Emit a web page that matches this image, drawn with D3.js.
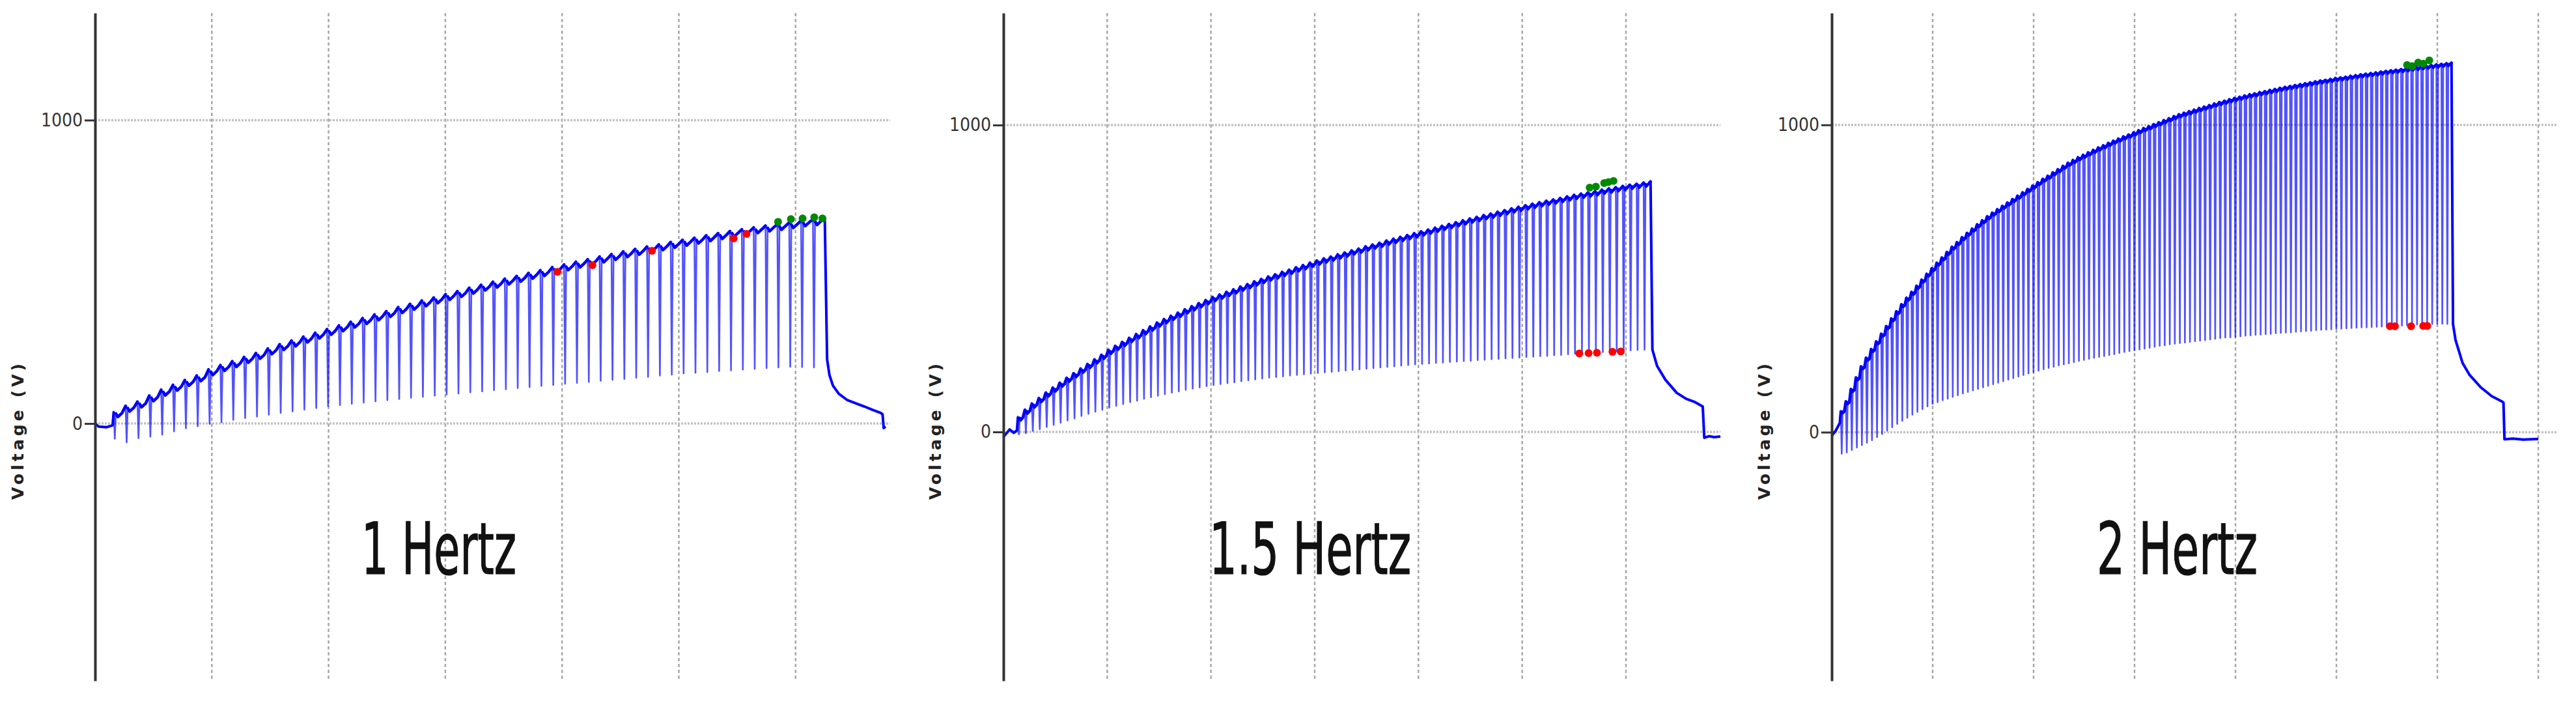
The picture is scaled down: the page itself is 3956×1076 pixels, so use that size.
<!DOCTYPE html>
<html>
<head>
<meta charset="utf-8">
<script src="https://cdn.jsdelivr.net/npm/d3@7"></script>
<style>
  body { margin: 0; background: #fff; }
  svg { display: block; }
  .tick text { font-family: "Liberation Sans Narrow", "DejaVu Sans Condensed", sans-serif; font-size: 28px; fill: #333; }
  .axis-title { font-family: "DejaVu Sans", Verdana, sans-serif; font-weight: bold; font-size: 25px; fill: #222; }
  .freq-label { font-family: "Liberation Sans Narrow", "DejaVu Sans Condensed", sans-serif; font-size: 110px; fill: #111; stroke: #111; stroke-width: 1.2px; }
</style>
</head>
<body>
<svg id="chart" width="3956" height="1076"></svg>
<script>
const yTicks = [0, 1000];
const gridStep = 10;
const axisTitle = "Voltage (V)";

// ---- 1 Hz: peak / trough voltage of each pulse ----
const p1Top = [40, 58, 72, 92, 111, 127, 143, 158, 178, 192,
  205, 219, 232, 247, 261, 273, 286, 299, 311, 323,
  335, 347, 359, 370, 383, 394, 405, 415, 426, 436,
  447, 457, 467, 477, 486, 496, 505, 515, 524, 533,
  541, 550, 558, 567, 575, 583, 590, 598, 605, 612,
  620, 627, 634, 640, 646, 652, 657, 663, 669, 673, 678];
const p1Bottom = [-50, -62, -48, -43, -37, -26, -16, -9, -1, 4,
  12, 18, 23, 29, 35, 40, 46, 51, 57, 61,
  65, 69, 73, 77, 81, 85, 88, 92, 96, 99,
  103, 106, 110, 113, 117, 120, 124, 127, 131, 134,
  137, 141, 144, 147, 151, 154, 158, 161, 165, 167,
  170, 173, 175, 178, 180, 183, 185, 187, 186, 185];
const p1Lead = [[0, 0], [0.3, -10], [1.0, -12], [1.5, -6]];
const p1Tail = [[62.7, 212], [62.9, 160], [63.2, 125], [63.7, 98], [64.4, 78], [65.2, 66],
  [65.9, 56], [66.6, 45], [67.3, 35], [67.45, 30], [67.55, -15], [67.7, -10]];
const p1Red = [[39.6, 500], [42.6, 522], [47.7, 569], [54.7, 610], [55.8, 625]];
const p1Green = [[58.5, 665], [59.6, 674], [60.6, 676], [61.6, 680], [62.3, 676]];

// ---- 1.5 Hz ----
const p2Top = [50, 72, 92, 110, 128, 144, 160, 176, 191, 206,
  221, 236, 251, 267, 280, 293, 306, 318, 331, 343,
  356, 367, 378, 388, 399, 409, 419, 429, 439, 447,
  456, 464, 473, 481, 490, 498, 506, 513, 521, 528,
  536, 543, 551, 558, 565, 571, 578, 584, 591, 597,
  604, 610, 616, 623, 629, 635, 641, 647, 653, 659,
  665, 671, 677, 683, 689, 695, 700, 706, 711, 717,
  722, 728, 733, 738, 743, 748, 753, 757, 762, 767,
  772, 776, 780, 784, 789, 793, 797, 801, 805, 808, 812, 816];
const p2Bottom = [-8, -4, 3, 9, 16, 23, 30, 37, 44, 52,
  59, 66, 72, 79, 85, 91, 97, 102, 108, 113,
  118, 123, 128, 132, 137, 141, 145, 149, 153, 156,
  159, 162, 165, 168, 171, 174, 177, 179, 181, 184,
  186, 188, 190, 192, 194, 196, 198, 200, 202, 204,
  206, 208, 210, 212, 214, 216, 218, 220, 222, 223,
  225, 226, 228, 229, 231, 232, 234, 235, 237, 238,
  240, 241, 242, 244, 245, 247, 248, 250, 251, 253,
  255, 256, 258, 259, 260, 262, 263, 264, 266, 267, 268];
const p2Lead = [[0, -16], [0.6, 8], [1.0, -3], [1.3, 5]];
const p2Tail = [[62.55, 268], [63.0, 215], [63.8, 170], [64.9, 127], [65.8, 108], [66.6, 98],
  [67.4, 83], [67.55, -19], [68.0, -14], [68.5, -17], [69.1, -15]];
const p2Red = [[55.5, 256], [56.4, 257], [57.2, 258], [58.7, 261], [59.5, 262]];
const p2Green = [[56.5, 796], [57.1, 799], [57.9, 811], [58.3, 814], [58.8, 818]];

// ---- 2 Hz ----
const p3Top = [70, 100, 140, 178, 214, 242, 270, 295, 320, 345,
  370, 393, 416, 437, 456, 476, 496, 515, 533, 551,
  568, 586, 603, 618, 634, 648, 662, 676, 689, 702,
  714, 725, 736, 747, 758, 769, 780, 791, 802, 813,
  824, 834, 845, 855, 866, 876, 885, 894, 902, 910,
  918, 926, 933, 941, 948, 955, 962, 968, 975, 982,
  989, 995, 1002, 1008, 1015, 1021, 1028, 1034, 1039, 1044,
  1049, 1054, 1059, 1064, 1069, 1074, 1078, 1083, 1087, 1091,
  1095, 1099, 1102, 1106, 1109, 1113, 1116, 1120, 1123, 1126,
  1129, 1132, 1135, 1138, 1141, 1144, 1146, 1149, 1152, 1154,
  1156, 1159, 1161, 1164, 1166, 1168, 1170, 1173, 1175, 1177,
  1179, 1181, 1183, 1186, 1188, 1190, 1192, 1194, 1196, 1198, 1200, 1202];
const p3Bottom = [-70, -66, -58, -50, -42, -34, -26, -16, -6, 5,
  16, 27, 37, 47, 57, 66, 75, 84, 92, 98,
  104, 109, 115, 120, 126, 131, 136, 141, 146, 151,
  156, 161, 166, 171, 176, 181, 186, 191, 196, 200,
  205, 209, 213, 217, 221, 224, 228, 232, 235, 239,
  242, 245, 248, 251, 254, 258, 261, 264, 267, 269,
  272, 275, 278, 281, 283, 286, 288, 290, 292, 294,
  296, 298, 300, 302, 304, 306, 308, 309, 311, 312,
  314, 315, 317, 318, 319, 320, 322, 323, 324, 325,
  327, 328, 329, 330, 332, 333, 334, 335, 337, 337,
  338, 339, 340, 341, 341, 342, 343, 344, 345, 346,
  347, 347, 348, 349, 350, 351, 351, 352, 353, 353, 352];
const p3Lead = [[0, -12], [0.4, 5], [0.8, 30]];
const p3Tail = [[61.55, 352], [61.8, 300], [62.5, 225], [63.2, 186], [64.3, 146], [65.4, 117],
  [66.4, 100], [66.55, 96], [66.65, -23], [67.5, -21], [68.5, -24], [70.0, -22]];
const p3Red = [[55.3, 345], [55.8, 345], [57.4, 345], [58.6, 346], [59.0, 346]];
const p3Green = [[57.0, 1195], [57.5, 1191], [58.1, 1203], [58.6, 1199], [59.2, 1210]];

const panels = [
  { label: "1 Hertz", start: 1.6, period: 1.015, top: p1Top, bottom: p1Bottom, lead: p1Lead, tail: p1Tail,
    red: p1Red, green: p1Green, xMax: 68.1, yMin: -848, yMax: 1353,
    left: 146, right: 1367, spike: 0.09, dip: 18, labelX: 555, labelW: 238, titleX: 27 },
  { label: "1.5 Hertz", start: 1.4, period: 0.67, top: p2Top, bottom: p2Bottom, lead: p2Lead, tail: p2Tail,
    red: p2Red, green: p2Green, xMax: 69.1, yMin: -811, yMax: 1365,
    left: 1541, right: 2642, spike: 0.09, dip: 12, labelX: 1857, labelW: 310, titleX: 1436 },
  { label: "2 Hertz", start: 0.9, period: 0.5, top: p3Top, bottom: p3Bottom, lead: p3Lead, tail: p3Tail,
    red: p3Red, green: p3Green, xMax: 71.8, yMin: -809, yMax: 1364,
    left: 2813, right: 3926, spike: 0.09, dip: 8, labelX: 3220, labelW: 247, titleX: 2709 }
];

const plotTop = 20, plotBottom = 1045, labelBaseline = 881;
const svg = d3.select("#chart");

// builds the full trace and the darker plateau pieces between pulses
function buildTrace(p) {
  const pts = p.lead.slice();
  const caps = [];
  const n = p.top.length;
  p.top.forEach((v, i) => {
    const t = p.start + i * p.period;
    pts.push([t, v]);
    if (i === n - 1) return;
    const cap = [
      [t + 2 * p.spike, v - 0.4 * p.dip],
      [t + 0.35 * p.period, v - p.dip],
      [t + 0.7 * p.period, v - 0.3 * p.dip],
      [t + p.period, p.top[i + 1]]
    ];
    pts.push([t + p.spike, p.bottom[i]], cap[0], cap[1], cap[2]);
    caps.push(cap);
  });
  p.tail.forEach(d => pts.push(d));
  return { pts, caps };
}

panels.forEach(p => {
  const x = d3.scaleLinear().domain([0, p.xMax]).range([p.left, p.right]);
  const y = d3.scaleLinear().domain([p.yMin, p.yMax]).range([plotBottom, plotTop]);
  const g = svg.append("g");

  // vertical dashed grid
  g.selectAll(".vgrid")
    .data(d3.range(gridStep, p.xMax, gridStep))
    .join("line")
    .attr("x1", d => x(d)).attr("x2", d => x(d))
    .attr("y1", plotTop).attr("y2", plotBottom)
    .attr("stroke", "#a9a9a9").attr("stroke-width", 2.5).attr("stroke-dasharray", "5,4");

  // horizontal grid at the ticks
  g.selectAll(".hgrid")
    .data(yTicks)
    .join("line")
    .attr("x1", p.left).attr("x2", p.right)
    .attr("y1", d => y(d)).attr("y2", d => y(d))
    .attr("stroke", "#c2c2c2").attr("stroke-width", 3.5).attr("stroke-dasharray", "3,2");

  const line = d3.line().x(d => x(d[0])).y(d => y(d[1]));
  const tr = buildTrace(p);

  g.append("path")
    .attr("d", line(tr.pts))
    .attr("fill", "none").attr("stroke", "#0000ff")
    .attr("stroke-width", 2.6).attr("stroke-opacity", 0.68)
    .attr("stroke-linejoin", "round");

  g.append("path")
    .attr("d", tr.caps.map(c => line(c)).join(""))
    .attr("fill", "none").attr("stroke", "#0000ff")
    .attr("stroke-width", 4.5).attr("stroke-linecap", "round").attr("stroke-linejoin", "round");

  const last = p.top.length - 1;
  g.append("path")
    .attr("d", line(p.lead.concat([[p.start, p.top[0]]])) +
      line([[p.start + last * p.period, p.top[last]]].concat(p.tail)))
    .attr("fill", "none").attr("stroke", "#0000ff")
    .attr("stroke-width", 4).attr("stroke-linejoin", "round");

  g.selectAll(".red")
    .data(p.red)
    .join("circle")
    .attr("cx", d => x(d[0])).attr("cy", d => y(d[1])).attr("r", 6)
    .attr("fill", "#ff0000");

  g.selectAll(".green")
    .data(p.green)
    .join("circle")
    .attr("cx", d => x(d[0])).attr("cy", d => y(d[1])).attr("r", 6)
    .attr("fill", "#008a00");

  // y axis
  const axis = g.append("g")
    .attr("transform", "translate(" + p.left + ",0)")
    .call(d3.axisLeft(y).tickValues(yTicks).tickSize(16).tickSizeOuter(0).tickPadding(3).tickFormat(d3.format("d")));
  axis.select(".domain").attr("stroke", "#333").attr("stroke-width", 4);
  axis.selectAll(".tick line").attr("stroke", "#333").attr("stroke-width", 3);
  axis.selectAll(".tick text").attr("font-family", null).attr("font-size", null);

  g.append("text")
    .attr("class", "axis-title")
    .attr("transform", "translate(" + p.titleX + "," + ((plotTop + plotBottom) / 2 + 130) + ") rotate(-90)")
    .attr("text-anchor", "middle")
    .attr("dy", "0.35em")
    .attr("textLength", 209).attr("lengthAdjust", "spacing")
    .text(axisTitle);

  g.append("text")
    .attr("class", "freq-label")
    .attr("x", p.labelX).attr("y", labelBaseline)
    .attr("textLength", p.labelW).attr("lengthAdjust", "spacingAndGlyphs")
    .text(p.label);
});
</script>
</body>
</html>
